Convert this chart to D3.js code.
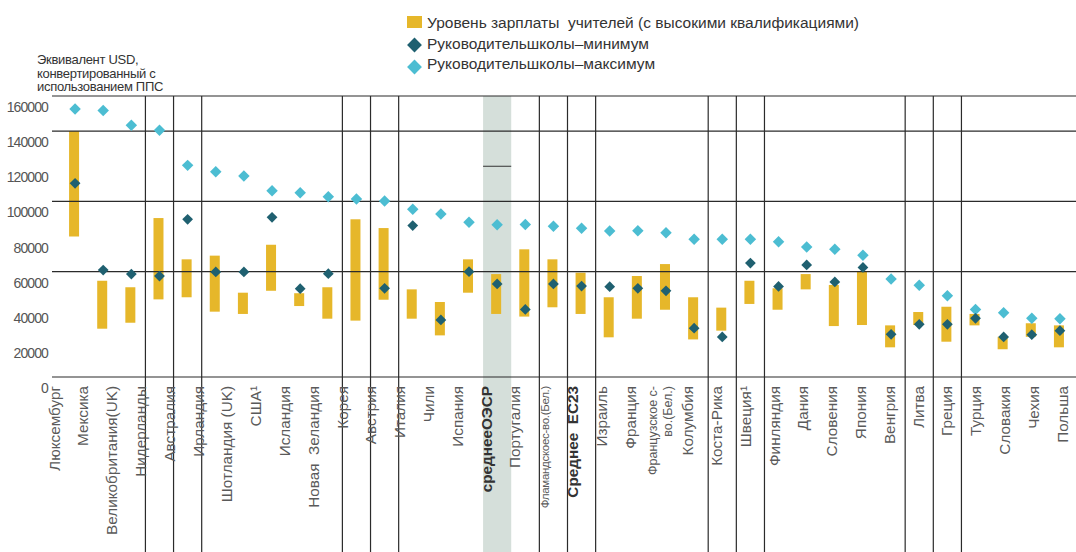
<!DOCTYPE html>
<html>
<head>
<meta charset="utf-8">
<script src="https://cdn.jsdelivr.net/npm/d3@7"></script>
<style>
  body { margin: 0; background: #fff; }
  svg { display: block; font-family: "Liberation Sans", Arial, sans-serif; }
  svg text { white-space: pre; }
</style>
</head>
<body>
<div class="svg-container"></div>
<script>
// categories in chart order
var countries = ["Люксембург", "Мексика", "Великобритания(UK)", "Нидерланды", "Австралия", "Ирландия",
  "Шотландия (UK)", "США¹", "Исландия", "Новая  Зеландия", "Корея", "Австрия", "Италия", "Чили",
  "Испания", "среднееОЭСР", "Португалия", "Фламандскоес-во.(Бел.)", "Среднее  ЕС23", "Израиль",
  "Франция", "Французское с-во.(Бел.)", "Колумбия", "Коста-Рика", "Швеция¹", "Финляндия", "Дания",
  "Словения", "Япония", "Венгрия", "Литва", "Греция", "Турция", "Словакия", "Чехия", "Польша"];

// teachers salary range (bar low / high)
var teacherLow  = [80000, 27500, 30900, 44200, 45400, 37200, 35900, 49100, 40400, 33200, 32100, 44000,
  33200, 23700, 48000, 35900, 34400, 39700, 35900, 22600, 33200, 38300, 21400, 26400, 41600, 38300,
  49900, 29000, 29600, 16900, 29600, 20100, 29400, 15800, 22900, 16900];
var teacherHigh = [140000, 54800, 51100, 90500, 67000, 69100, 48000, 75300, 47700, 51100, 89800, 84800,
  49900, 42700, 67000, 58600, 72700, 67000, 59400, 45400, 57500, 64300, 45400, 39500, 54800, 50500,
  58600, 52400, 60000, 29400, 37000, 40000, 35900, 22900, 30600, 29400];

// school heads, minimum and maximum (null = no value)
var headMin = [110300, 60900, 58600, 57500, 89800, 59800, 59800, 90900, 50300, 58800, null, 50500,
  86200, 32500, 60000, 53000, 38500, 53000, 51800, 51400, 50500, 49100, 27800, 22800, 64900, 51600,
  63800, 54100, 62400, 24300, 30000, 30000, 33400, 22800, 24100, 26400];
var headMax = [152600, 151700, 143300, 140500, 120500, 116900, 114500, 106100, 104900, 102700, 101400,
  100200, 95500, 92800, 88100, 86700, 86900, 85800, 84700, 83100, 83300, 82200, 78500, 78400, 78400,
  77000, 74000, 72700, 69300, 55800, 52200, 46300, 38500, 36600, 33400, 33200];

var yTicks = [0, 20000, 40000, 60000, 80000, 100000, 120000, 140000, 160000];
var gridValues = [160000, 140000, 100000, 60000, 0];
var boxed = ["Нидерланды", "Австралия", "Корея", "Австрия", "Фламандскоес-во.(Бел.)", "Среднее  ЕС23",
  "Коста-Рика", "Швеция¹", "Литва", "Греция"];
var averages = ["среднееОЭСР", "Среднее  ЕС23"];
var highlight = "среднееОЭСР";

var legendItems = ["Уровень зарплаты  учителей (с высокими квалификациями)",
  "Руководительшколы–минимум", "Руководительшколы–максимум"];

var W = 1076, H = 552;
var cBar = "#e6b72a", cMin = "#1f6070", cMax = "#4cbdd2", cBand = "#d5dfda", cLine = "#2b2b2b";

var svg = d3.select(".svg-container").append("svg")
  .attr("width", W).attr("height", H);

var x = d3.scaleBand().domain(countries).range([61, 1074]).padding(0);
var xLab = d3.scalePoint().domain(countries).range([59.5, 1067.5]);
var y = d3.scaleLinear().domain([0, 160000]).range([377, 96]);

var rows = countries.map(function(c, i) {
  return { name: c, lo: teacherLow[i], hi: teacherHigh[i], min: headMin[i], max: headMax[i] };
});

// highlighted OECD average band
svg.append("rect")
  .attr("x", x(highlight)).attr("y", y(160000))
  .attr("width", x.bandwidth()).attr("height", H - y(160000))
  .attr("fill", cBand);
svg.append("line")
  .attr("x1", x(highlight)).attr("x2", x(highlight) + x.bandwidth())
  .attr("y1", y(120000)).attr("y2", y(120000))
  .attr("stroke", "#333").attr("stroke-width", 1);

// teacher bars
svg.append("g").selectAll("rect").data(rows).enter().append("rect")
  .attr("x", function(d) { return x(d.name) + x.bandwidth() / 2 - 6; })
  .attr("width", 10)
  .attr("y", function(d) { return y(d.hi); })
  .attr("height", function(d) { return y(d.lo) - y(d.hi); })
  .attr("fill", cBar);

// gridlines
svg.append("g").selectAll("line").data(gridValues).enter().append("line")
  .attr("x1", 52).attr("x2", W)
  .attr("y1", function(d) { return y(d); }).attr("y2", function(d) { return y(d); })
  .attr("stroke", cLine).attr("stroke-width", 1.2);

// vertical separators around boxed categories
var edges = [];
boxed.forEach(function(c) {
  [x(c), x(c) + x.bandwidth()].forEach(function(e) {
    if (edges.every(function(v) { return Math.abs(v - e) > 1; })) edges.push(e);
  });
});
svg.append("g").selectAll("line").data(edges).enter().append("line")
  .attr("x1", function(d) { return d; }).attr("x2", function(d) { return d; })
  .attr("y1", y(160000)).attr("y2", H)
  .attr("stroke", cLine).attr("stroke-width", 1.2);

// diamonds
var diamond = d3.symbol().type(d3.symbolSquare);
svg.append("g").selectAll("path").data(rows.filter(function(d) { return d.max != null; })).enter().append("path")
  .attr("d", diamond.size(66)())
  .attr("transform", function(d) { return "translate(" + (x(d.name) + x.bandwidth() / 2) + "," + y(d.max) + ") rotate(45)"; })
  .attr("fill", cMax);
svg.append("g").selectAll("path").data(rows.filter(function(d) { return d.min != null; })).enter().append("path")
  .attr("d", diamond.size(58)())
  .attr("transform", function(d) { return "translate(" + (x(d.name) + x.bandwidth() / 2) + "," + y(d.min) + ") rotate(45)"; })
  .attr("fill", cMin);

// y tick labels (sit slightly under their values, as in the original)
svg.append("g").selectAll("text").data(yTicks).enter().append("text")
  .attr("x", 48).attr("y", function(d) { return y(d) + 11; })
  .attr("dy", "0.36em")
  .attr("text-anchor", "end")
  .attr("font-size", 14).attr("letter-spacing", "-0.9px")
  .attr("fill", "#555")
  .text(function(d) { return d; });

// axis title
svg.append("text")
  .attr("x", 37).attr("y", 64)
  .attr("font-size", 13).attr("letter-spacing", "-0.3px").attr("fill", "#333")
  .selectAll("tspan").data(["Эквивалент USD,", "конвертированный с", "использованием ППС"])
  .enter().append("tspan")
  .attr("x", 37).attr("dy", function(d, i) { return i ? 13.5 : 0; })
  .text(function(d) { return d; });

// category labels
var labels = svg.append("g").selectAll("text").data(countries).enter().append("text")
  .attr("transform", function(d) { return "translate(" + xLab(d) + ",386) rotate(-90)"; })
  .attr("text-anchor", "end")
  .attr("font-size", function(d) {
    if (d.indexOf("Фламанд") == 0) return 11.5;
    if (d.indexOf("Француз") == 0) return 12.5;
    return 15.3;
  })
  .attr("letter-spacing", function(d) { return d.indexOf("Фламанд") == 0 ? "-0.3px" : null; })
  .attr("font-weight", function(d) { return averages.indexOf(d) >= 0 ? "bold" : null; })
  .attr("fill", function(d) { return averages.indexOf(d) >= 0 ? "#333" : "#5a5a5a"; });

labels.each(function(d) {
  var t = d3.select(this);
  if (d.indexOf("Француз") == 0) {
    t.append("tspan").attr("x", 0).attr("dy", "-0.55em").text("Французское с-");
    t.append("tspan").attr("x", 0).attr("dy", "1.2em").text("во.(Бел.)");
  } else {
    t.text(d);
  }
});

// legend
var legend = svg.append("g").attr("transform", "translate(407,0)");
legend.append("rect").attr("x", 0).attr("y", 16).attr("width", 15).attr("height", 12).attr("fill", cBar);
legend.append("path").attr("d", diamond.size(110)())
  .attr("transform", "translate(7.5,45) rotate(45)").attr("fill", cMin);
legend.append("path").attr("d", diamond.size(110)())
  .attr("transform", "translate(7.5,67) rotate(45)").attr("fill", cMax);
legend.selectAll("text.leg").data(legendItems).enter().append("text")
  .attr("class", "leg")
  .attr("x", 20).attr("y", function(d, i) { return [22, 43, 63][i]; })
  .attr("dy", "0.36em")
  .attr("font-size", 15.5).attr("fill", "#333")
  .text(function(d) { return d; });
</script>
</body>
</html>
